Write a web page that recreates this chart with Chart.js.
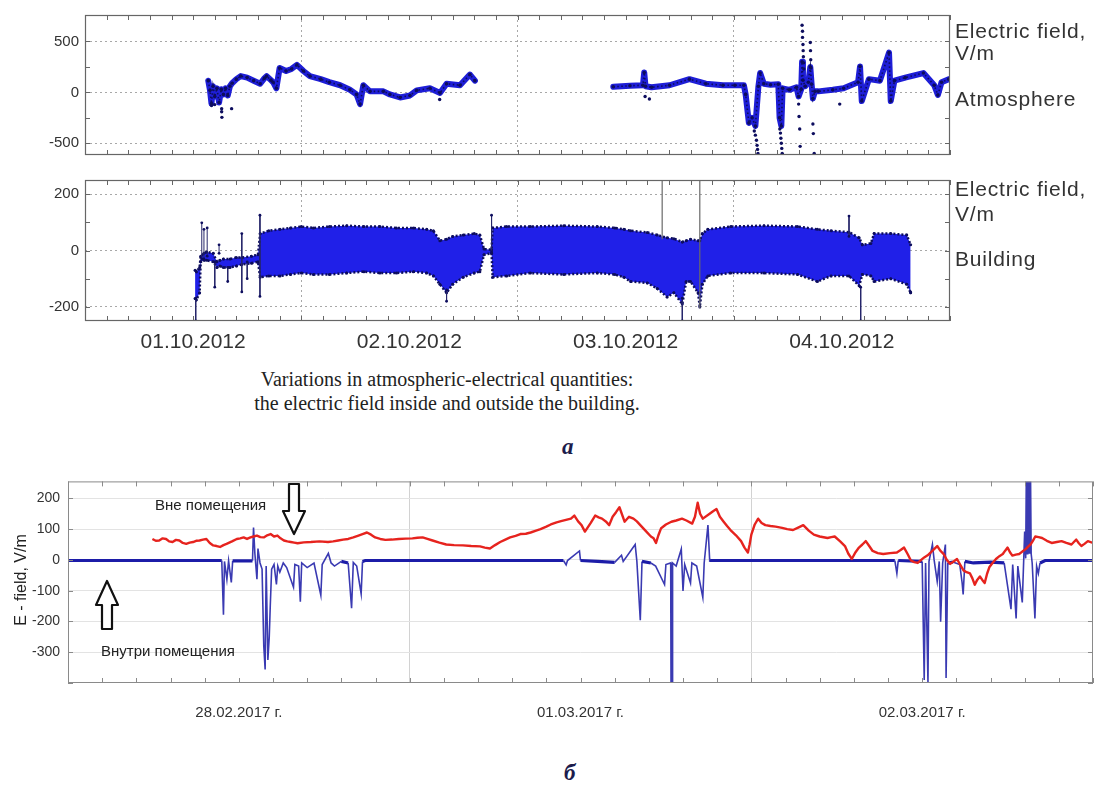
<!DOCTYPE html>
<html>
<head>
<meta charset="utf-8">
<title>Electric field inside and outside the building</title>
<script src="https://cdn.jsdelivr.net/npm/chart.js@4.4.0/dist/chart.umd.min.js"></script>
<style>
  body { margin:0; background:#fff; width:1114px; height:785px; position:relative; overflow:hidden;
         font-family:"Liberation Sans", Arial, sans-serif; }
  canvas { position:absolute; left:0; }
  .side { position:absolute; left:955px; font-size:21px; line-height:21px; letter-spacing:0.8px; color:#333; white-space:nowrap; }
  .caption { position:absolute; left:447px; transform:translateX(-50%); font-family:"Liberation Serif", "Times New Roman", serif;
             font-size:20px; line-height:20px; color:#222; white-space:nowrap; }
  .letter { position:absolute; font-family:"Liberation Serif", serif; font-style:italic; font-weight:bold;
            font-size:23px; line-height:23px; color:#1c1c4c; }
  .note { position:absolute; font-size:15px; line-height:15px; color:#222; white-space:nowrap; }
  .ytitle { position:absolute; left:21px; top:580px; transform:translate(-50%,-50%) rotate(-90deg);
            font-size:16px; color:#222; white-space:nowrap; }
  svg { position:absolute; left:0; top:0; }
</style>
</head>
<body>
<canvas id="chartAtm" width="960" height="170" style="top:0"></canvas>
<canvas id="chartBld" width="960" height="200" style="top:165px"></canvas>
<canvas id="chartRoom" width="1114" height="265" style="top:465px"></canvas>

<div class="side" style="top:20px">Electric field,</div>
<div class="side" style="top:42px">V/m</div>
<div class="side" style="top:88px">Atmosphere</div>
<div class="side" style="top:178px">Electric field,</div>
<div class="side" style="top:203px">V/m</div>
<div class="side" style="top:248px">Building</div>

<div class="caption" style="top:369px">Variations in atmospheric-electrical quantities:</div>
<div class="caption" style="top:393px">the electric field inside and outside the building.</div>
<div class="letter" style="left:562px; top:435px">а</div>
<div class="letter" style="left:564px; top:761px">б</div>

<div class="note" style="left:155px; top:497px">Вне помещения</div>
<div class="note" style="left:101px; top:643px">Внутри помещения</div>
<div class="ytitle">E - field, V/m</div>

<svg width="1114" height="785">
  <path d="M289,484 L299,484 L299,511 L305,511 L294,534 L283,511 L289,511 Z" fill="#fff" stroke="#111" stroke-width="2.2" stroke-linejoin="round"/>
  <path d="M107,581 L118,605 L112,605 L112,629 L102,629 L102,605 L96,605 Z" fill="#fff" stroke="#111" stroke-width="2.2" stroke-linejoin="round"/>
</svg>

<script>
// time axis = days from the first midnight shown, field in V/m

// ---- 01.10–04.10.2012, atmosphere ----
const atmDays = [0.57,0.578,0.585,0.592,0.60,0.61,0.62,0.63,0.64,0.65,0.66,0.67,0.68,0.70,0.72,0.75,0.78,0.81,0.83,0.84,
  0.86,0.87,0.885,0.90,0.93,0.955,0.98,1.01,1.04,1.09,1.13,1.18,1.225,1.256,1.272,1.287,1.318,1.38,1.41,1.457,
  1.503,1.534,1.595,1.642,1.672,1.734,1.78,1.803,
  2.1,
  2.443,2.52,2.58,2.586,2.592,2.62,2.703,2.795,2.871,2.95,3.005,3.047,3.055,3.07,3.085,3.10,3.114,3.122,3.139,3.17,
  3.206,3.212,3.22,3.226,3.257,3.29,3.30,3.312,3.316,3.32,3.33,3.345,3.354,3.36,3.366,3.375,3.391,3.458,3.508,3.575,
  3.584,3.592,3.625,3.676,3.718,3.726,3.743,3.793,3.877,3.927,3.944,3.961,3.994];
const atmField = [115,20,-110,60,-40,40,-100,30,-20,40,-30,60,90,130,160,145,115,85,140,160,
  120,100,40,240,210,230,270,210,160,130,100,70,25,-20,-115,70,10,10,-20,-50,
  -30,20,40,-5,85,70,175,115,
  null,
  55,65,70,195,60,50,70,130,85,70,70,70,-20,-300,-250,-330,60,190,85,75,
  80,-250,-330,40,25,50,-40,30,300,120,60,100,250,80,-60,10,10,25,40,100,
  255,-85,130,115,390,-85,115,145,190,70,-25,100,130];

// single readings away from the trace
const atmDotDays = [0.585,0.60,0.632,0.632,0.633,0.678,1.64,2.59,2.61,3.49,
  3.095,3.10,3.105,3.108,3.11,3.112,
  3.213,3.216,3.218,3.22,3.222,3.224,3.226,
  3.30,3.302,3.305,3.307,
  3.316,3.318,3.318,3.32,3.321,3.322,3.323,3.324,
  3.354,3.355,3.356,3.357,
  3.366,3.368,3.372];
const atmDotField = [-130,-120,-160,-190,-245,-160,-70,-40,-65,-115,
  -380,-420,-470,-520,-560,-600,
  -360,-400,-450,-500,-550,-600,-610,
  -115,-237,-360,-530,
  660,600,540,470,410,350,290,230,
  490,410,320,240,
  -310,-405,-600];

// ---- building: spread of the readings (upper / lower edge) ----
const bldDays = [0.509,0.515,0.53,0.535,0.55,0.563,0.593,0.61,0.624,0.64,0.671,0.70,0.725,0.77,0.80,0.81,0.85,0.902,0.95,1.0,
  1.056,1.13,1.21,1.29,1.364,1.44,1.518,1.58,1.611,1.641,1.672,1.70,1.749,1.80,1.826,1.845,1.88,1.885,1.95,2.06,
  2.214,2.369,2.45,2.492,2.523,2.60,2.646,2.692,2.723,2.762,2.78,2.80,2.835,2.843,2.855,2.88,2.986,3.14,3.295,3.387,
  3.45,3.533,3.58,3.595,3.634,3.649,3.726,3.80,3.818];
const bldTop = [-70,-75,-60,-20,-10,-5,-10,-40,-35,-30,-30,-25,-25,-20,-15,60,70,75,80,85,
  80,85,88,85,85,80,80,75,70,35,40,50,55,60,55,5,3,80,85,85,
  88,85,80,75,70,64,55,45,42,30,35,40,35,35,60,75,85,88,85,75,
  70,65,45,20,25,60,60,55,20];
const bldBottom = [-170,-175,-150,-40,-35,-35,-40,-60,-55,-60,-60,-55,-50,-45,-40,-95,-90,-90,-85,-80,
  -85,-85,-80,-75,-80,-80,-75,-80,-90,-120,-150,-120,-95,-80,-75,-15,-10,-95,-90,-80,
  -85,-80,-85,-95,-110,-115,-135,-165,-150,-190,-110,-110,-150,-200,-120,-90,-80,-80,-85,-110,
  -90,-90,-125,-85,-90,-110,-100,-120,-150];

// short excursions
const bldSpikeDays = [0.512,0.54,0.55,0.565,0.60,0.62,0.66,0.725,0.75,0.809,1.672,1.88,2.762,3.533,3.587,3.818];
const bldSpikeFrom = [-170,-30,-30,-20,-40,-10,-60,60,-40,125,-140,125,-169,122,-130,-150];
const bldSpikeTo = [-250,98,75,80,-130,20,-110,-147,-100,-163,-180,-5,-250,50,-250,-147];
// two long excursions off the scale
const bldLineDays = [2.669,2.843];
const bldLineFrom = [40,260];
const bldLineTo = [260,-205];

const days2012 = ['01.10.2012','02.10.2012','03.10.2012','04.10.2012'];
const atmTicks = [-500,-250,0,250,500];
const atmLabelled = [-500,0,500];
const bldTicks = [-200,-100,0,100,200];
const bldLabelled = [-200,0,200];

// ---- 28.02–02.03.2017 ----
const outDays = [0.247,0.257,0.267,0.277,0.287,0.296,0.306,0.316,0.326,0.336,0.346,0.356,0.366,0.375,0.385,0.395,0.405,0.415,0.425,0.435,
  0.445,0.455,0.464,0.48,0.494,0.504,0.514,0.524,0.534,0.543,0.553,0.563,0.573,0.583,0.593,0.603,0.613,0.622,0.632,0.642,
  0.652,0.662,0.672,0.69,0.711,0.736,0.761,0.776,0.791,0.805,0.820,0.835,0.850,0.862,0.875,0.887,0.899,0.914,0.929,0.948,
  0.968,0.988,1.008,1.023,1.038,1.052,1.067,1.087,1.107,1.13,1.156,1.18,1.206,1.22,1.235,1.25,1.265,1.28,1.294,1.31,
  1.324,1.34,1.354,1.37,1.383,1.40,1.413,1.43,1.443,1.472,1.482,1.493,1.503,1.513,1.53,1.543,1.553,1.563,1.574,1.584,
  1.594,1.604,1.614,1.629,1.642,1.655,1.665,1.675,1.69,1.706,1.714,1.721,1.728,1.736,1.75,1.766,1.78,1.797,1.81,1.827,
  1.835,1.843,1.85,1.858,1.878,1.888,1.898,1.908,1.919,1.929,1.939,1.955,1.970,1.98,1.990,1.995,2.0,2.01,2.020,2.03,
  2.041,2.056,2.071,2.09,2.105,2.122,2.137,2.152,2.168,2.183,2.2,2.223,2.234,2.244,2.26,2.274,2.284,2.294,2.305,2.315,
  2.325,2.335,2.345,2.355,2.37,2.386,2.406,2.426,2.437,2.447,2.457,2.467,2.477,2.487,2.497,2.506,2.516,2.525,2.535,2.544,
  2.553,2.563,2.572,2.582,2.592,2.602,2.611,2.621,2.630,2.640,2.647,2.654,2.661,2.669,2.676,2.683,2.69,2.697,2.706,2.716,
  2.726,2.736,2.743,2.750,2.757,2.764,2.774,2.784,2.793,2.803,2.81,2.817,2.824,2.831,2.841,2.851,2.865,2.879,2.894,2.908,
  2.922,2.937,2.944,2.951,2.958,2.966,2.975,2.985,3.0];
const outField = [68,62,63,70,68,60,58,65,63,55,52,56,58,62,63,66,68,55,47,45,
  42,48,52,60,68,70,73,68,73,76,79,74,73,80,84,76,79,70,63,60,
  58,56,54,57,58,60,58,60,63,66,68,73,79,84,89,82,73,68,65,66,
  68,69,70,72,73,68,63,56,50,48,47,45,44,40,37,48,58,66,73,78,
  84,85,89,95,100,108,115,122,126,134,144,125,113,92,120,144,138,134,125,113,
  140,155,171,124,140,134,125,113,95,76,70,55,80,103,115,124,128,134,128,118,
  140,186,150,134,150,158,165,140,124,110,97,80,61,40,24,50,82,115,134,120,
  113,110,108,104,100,97,105,113,95,82,76,71,74,76,60,45,20,3,25,40,
  50,61,45,29,22,19,22,24,32,40,20,-2,-7,-10,0,8,15,24,35,45,
  30,19,0,-13,-5,3,-15,-34,-40,-44,-60,-81,-65,-54,-65,-75,-45,-23,-10,3,
  12,19,30,40,25,14,17,19,27,35,43,50,62,76,74,71,62,55,58,61,
  55,50,58,66,55,45,52,61,55];

const inDays = [0,0.45,0.455,0.458,0.465,0.47,0.478,0.482,0.54,0.543,0.547,0.553,0.556,0.562,0.568,0.573,0.577,0.58,0.585,0.589,
  0.592,0.596,0.603,0.61,0.614,0.62,0.63,0.64,0.66,0.664,0.675,0.68,0.684,0.70,0.72,0.74,0.744,0.762,0.77,0.78,
  0.80,0.82,0.83,0.835,0.845,0.858,0.862,0.87,1.45,1.458,1.462,1.497,1.50,1.55,1.60,1.62,1.625,1.66,1.665,1.675,
  1.68,1.706,1.72,1.746,1.75,1.764,1.765,1.766,1.767,1.768,1.769,1.770,1.78,1.795,1.80,1.805,1.822,1.826,1.84,1.858,
  1.862,1.873,1.878,1.88,2.42,2.426,2.43,2.50,2.506,2.51,2.517,2.52,2.53,2.535,2.544,2.55,2.554,2.56,2.568,2.57,
  2.575,2.59,2.61,2.617,2.62,2.625,2.65,2.70,2.74,2.76,2.765,2.775,2.78,2.793,2.80,2.803,2.805,2.807,2.809,2.811,
  2.813,2.815,2.817,2.819,2.822,2.83,2.835,2.84,2.845,2.86,3.0];
const inField = [-2,-2,-178,-5,-63,-3,-73,-3,-3,105,20,-63,37,-10,-30,-280,-356,-20,-325,-251,
  -150,-30,-15,-80,-20,-40,-10,-25,-89,-15,-20,-136,-10,-25,-10,-115,-15,21,-10,-20,
  -5,-10,-157,-8,-20,-110,-5,-2,-2,-16,-2,29,-2,-5,-8,15,-5,50,-5,-196,
  -5,-10,-20,-80,-15,-10,-420,-10,-420,-10,-420,-10,-20,35,-101,-15,-75,-10,-20,-122,
  -10,113,0,-2,-2,-44,-2,-5,-390,-10,-400,-5,50,0,-70,-5,-201,-10,50,-384,
  -10,-7,-15,-75,-112,-5,-10,-7,-10,-160,-15,-190,-20,-138,92,5,300,20,300,20,
  300,20,300,20,-10,-190,-20,-44,-10,-2,-2];

const days2017 = ['28.02.2017 г.','01.03.2017 г.','02.03.2017 г.'];
const roomTicks = [-400,-300,-200,-100,0,100,200];
const roomLabelled = [-300,-200,-100,0,100,200];

const NAVY = '#0d0d5e';

Chart.defaults.font.family = '"Liberation Sans", Arial, sans-serif';
Chart.defaults.animation = false;

function pts(xs, ys) {
  return xs.map((x, i) => ({ x: x, y: ys[i] }));
}

function segments(xs, from, to) {
  return xs.flatMap((x, i) => [{ x: x, y: from[i] }, { x: x, y: to[i] }, { x: x, y: null }]);
}

// box around the plot with short inward tick marks on all four sides
const framePlugin = {
  id: 'frame',
  afterDatasetsDraw(chart, args, opts) {
    const { ctx, chartArea: a, scales: { x, y } } = chart;
    ctx.save();
    ctx.strokeStyle = opts.color;
    ctx.lineWidth = 1;
    ctx.beginPath();
    x.ticks.forEach(t => {
      const px = Math.round(x.getPixelForValue(t.value)) + 0.5;
      ctx.moveTo(px, a.bottom); ctx.lineTo(px, a.bottom - opts.len);
      ctx.moveTo(px, a.top); ctx.lineTo(px, a.top + opts.len);
    });
    y.ticks.forEach(t => {
      const py = Math.round(y.getPixelForValue(t.value)) + 0.5;
      ctx.moveTo(a.left, py); ctx.lineTo(a.left + opts.len, py);
      ctx.moveTo(a.right, py); ctx.lineTo(a.right - opts.len, py);
    });
    ctx.stroke();
    ctx.lineWidth = opts.width;
    ctx.strokeRect(a.left + 0.5, a.top + 0.5, a.right - a.left - 1, a.bottom - a.top - 1);
    ctx.restore();
  }
};

// x axis in days: minor marks every 0.1 day, grid at midnight, date under each day
function dayAxis(n, labels, o) {
  return {
    type: 'linear', min: 0, max: n,
    afterBuildTicks: s => {
      s.ticks = [];
      for (let k = 0; k <= n * 10; k++) s.ticks.push({ value: k / 10 });
    },
    afterFit: s => { s.height = o.height; },
    ticks: {
      display: o.labels, autoSkip: false, maxRotation: 0, minRotation: 0,
      padding: o.pad, color: '#333', font: { size: o.size },
      callback: v => {
        const d = Math.floor(v);
        return Math.abs(v - d - 0.5) < 1e-6 && labels[d] ? labels[d] : '';
      }
    },
    grid: {
      drawTicks: false,
      color: c => {
        const v = c.tick ? c.tick.value : NaN;
        return Math.abs(v - Math.round(v)) < 1e-6 && v > 0 && v < n ? o.grid : 'rgba(0,0,0,0)';
      }
    },
    border: { display: false, dash: o.dash }
  };
}

function fieldAxis(min, max, ticks, labelled, gridded, o) {
  return {
    min: min, max: max,
    afterBuildTicks: s => { s.ticks = ticks.map(v => ({ value: v })); },
    afterFit: s => { s.width = o.width; },
    ticks: {
      padding: o.pad, color: '#333', font: { size: o.size },
      callback: v => labelled.includes(v) ? String(v) : ''
    },
    grid: {
      drawTicks: false,
      color: c => c.tick && gridded.includes(c.tick.value) ? o.grid : 'rgba(0,0,0,0)'
    },
    border: { display: false, dash: o.dash }
  };
}

const common = {
  responsive: false,
  devicePixelRatio: 1,
  animation: false,
  plugins: { legend: { display: false }, tooltip: { enabled: false } }
};

// ---- atmosphere ----
new Chart(document.getElementById('chartAtm'), {
  type: 'line',
  data: {
    datasets: [
      { data: pts(atmDotDays, atmDotField), showLine: false, pointRadius: 1.7,
        pointBackgroundColor: NAVY, pointBorderWidth: 0, order: 0 },
      { data: pts(atmDays, atmField), borderColor: NAVY, borderWidth: 1.6, borderDash: [1.5, 2.5],
        pointRadius: 0, order: 1 },
      { data: pts(atmDays, atmField), borderColor: 'rgb(30,30,215)', borderWidth: 6,
        borderJoinStyle: 'round', borderCapStyle: 'round',
        pointRadius: 1.8, pointBackgroundColor: NAVY, pointBorderWidth: 0, order: 2 }
    ]
  },
  options: Object.assign({}, common, {
    layout: { padding: { top: 15, right: 10, bottom: 0, left: 0 } },
    scales: {
      x: dayAxis(4, days2012, { height: 6, labels: false, pad: 0, size: 21, grid: '#a8a8a8', dash: [2, 3] }),
      y: fieldAxis(-615, 760, atmTicks, atmLabelled, atmLabelled,
        { width: 85, pad: 6, size: 15, grid: '#a8a8a8', dash: [2, 3] })
    },
    plugins: Object.assign({}, common.plugins, { frame: { color: '#666', len: 5, width: 1.2 } })
  }),
  plugins: [framePlugin]
});

// ---- building ----
new Chart(document.getElementById('chartBld'), {
  type: 'line',
  data: {
    datasets: [
      { data: pts(bldDays, bldTop), borderColor: NAVY, borderWidth: 2.5, borderDash: [2, 2],
        pointRadius: 1.5, pointBackgroundColor: NAVY, pointBorderWidth: 0, fill: false, order: 1 },
      { data: pts(bldDays, bldBottom), borderColor: NAVY, borderWidth: 2.5, borderDash: [2, 2],
        pointRadius: 1.5, pointBackgroundColor: NAVY, pointBorderWidth: 0,
        fill: '-1', backgroundColor: 'rgb(32,32,232)', order: 1 },
      { data: segments(bldSpikeDays, bldSpikeFrom, bldSpikeTo), borderColor: '#26266a', borderWidth: 1,
        pointRadius: 1.4, pointBackgroundColor: NAVY, pointBorderWidth: 0, order: 0 },
      { data: segments(bldLineDays, bldLineFrom, bldLineTo), borderColor: '#6a6a6a', borderWidth: 1.2,
        pointRadius: 0, order: 0 }
    ]
  },
  options: Object.assign({}, common, {
    layout: { padding: { top: 7, right: 10, bottom: 0, left: 0 } },
    scales: {
      x: dayAxis(4, days2012, { height: 44, labels: true, pad: 9, size: 21, grid: '#a8a8a8', dash: [2, 3] }),
      y: fieldAxis(-250, 250, bldTicks, bldLabelled, bldLabelled,
        { width: 85, pad: 6, size: 15, grid: '#a8a8a8', dash: [2, 3] })
    },
    plugins: Object.assign({}, common.plugins, { frame: { color: '#666', len: 5, width: 1.2 } })
  }),
  plugins: [framePlugin]
});

// ---- 2017: outside (red) and inside (blue) ----
const nearZero = c => Math.abs(c.p0.parsed.y) < 12 && Math.abs(c.p1.parsed.y) < 12;

new Chart(document.getElementById('chartRoom'), {
  type: 'line',
  data: {
    datasets: [
      { data: pts(outDays, outField), borderColor: '#e6231e', borderWidth: 2.4, pointRadius: 0,
        borderJoinStyle: 'round', order: 0 },
      { data: pts(inDays, inField), pointRadius: 0, order: 1,
        borderColor: '#2222a6', borderWidth: 1.6,
        segment: {
          borderWidth: c => nearZero(c) ? 3.2 : 1.6,
          borderColor: c => nearZero(c) ? '#1c1ca8' : '#3a3ab2'
        } }
    ]
  },
  options: Object.assign({}, common, {
    layout: { padding: { top: 11, right: 2, bottom: 0, left: 0 } },
    scales: {
      x: dayAxis(3, days2017, { height: 47, labels: true, pad: 21, size: 15, grid: '#d2d2d2', dash: [] }),
      y: fieldAxis(-400, 255, roomTicks, roomLabelled, roomLabelled,
        { width: 68, pad: 8, size: 14, grid: '#e3e3e3', dash: [] })
    },
    plugins: Object.assign({}, common.plugins, { frame: { color: '#8a8a8a', len: 5, width: 1 } })
  }),
  plugins: [framePlugin]
});
</script>
</body>
</html>
